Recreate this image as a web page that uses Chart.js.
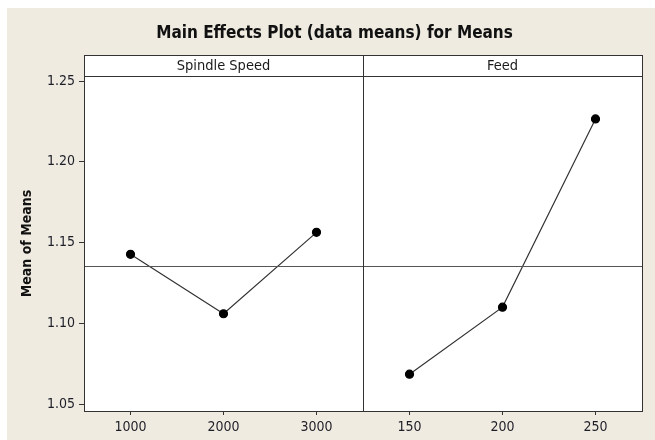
<!DOCTYPE html>
<html>
<head>
<meta charset="utf-8">
<script src="https://cdn.jsdelivr.net/npm/chart.js@4"></script>
<style>
  html, body { margin: 0; padding: 0; background: #ffffff; }
  #wrap { width: 655px; height: 440px; }
</style>
</head>
<body>
<div id="wrap"><canvas id="chart" width="655" height="440"></canvas></div>
<script>
const categories = ["1000", "2000", "3000", "150", "200", "250"];
const panels = ["Spindle Speed", "Feed"];
const spindleMeans = [1.1427, 1.1059, 1.1563, null, null, null];
const feedMeans = [null, null, null, 1.0685, 1.1100, 1.2265];
const grandMean = 1.1353;
const yTicks = [1.05, 1.10, 1.15, 1.20, 1.25];

const FONT = "'DejaVu Sans Condensed', 'DejaVu Sans', sans-serif";
const BEIGE = "#efebe1";
const LINE = "#333333";

// background, strip headers, panel divider and reference line
const panelPlugin = {
  id: "panels",
  beforeDraw(chart) {
    const c = chart.ctx;
    const a = chart.chartArea;
    const stripTop = a.top - 21;
    c.save();
    c.fillStyle = "#ffffff";
    c.fillRect(0, 0, chart.width, chart.height);
    c.fillStyle = BEIGE;
    c.fillRect(7, 8, chart.width - 7, chart.height - 8);
    c.fillStyle = "#ffffff";
    c.fillRect(a.left, stripTop, a.right - a.left, a.bottom - stripTop);
    c.restore();
  },
  afterDatasetsDraw(chart) {
    const c = chart.ctx;
    const a = chart.chartArea;
    const x = chart.scales.x;
    const y = chart.scales.y;
    const stripTop = a.top - 21;
    const mid = (x.getPixelForValue(2) + x.getPixelForValue(3)) / 2;
    c.save();
    c.lineWidth = 1;
    // grand mean
    const ym = Math.round(y.getPixelForValue(grandMean)) + 0.5;
    c.strokeStyle = "#555555";
    c.beginPath();
    c.moveTo(a.left, ym);
    c.lineTo(a.right, ym);
    c.stroke();
    // frame + strip
    c.strokeStyle = LINE;
    c.strokeRect(Math.round(a.left) + 0.5, Math.round(stripTop) + 0.5,
      Math.round(a.right - a.left), Math.round(a.bottom - stripTop));
    c.beginPath();
    c.moveTo(a.left, Math.round(a.top) + 0.5);
    c.lineTo(a.right, Math.round(a.top) + 0.5);
    c.moveTo(Math.round(mid) + 0.5, stripTop);
    c.lineTo(Math.round(mid) + 0.5, a.bottom);
    c.stroke();
    // strip labels
    c.fillStyle = "#1a1a1a";
    c.font = "14.5px " + FONT;
    c.textAlign = "center";
    c.textBaseline = "middle";
    c.fillText(panels[0], (a.left + mid) / 2, stripTop + 11);
    c.fillText(panels[1], (mid + a.right) / 2, stripTop + 11);
    c.restore();
  }
};

const ctx = document.getElementById("chart");

new Chart(ctx, {
  type: "line",
  data: {
    labels: categories,
    datasets: [
      {
        label: panels[0],
        data: spindleMeans,
        borderColor: LINE,
        borderWidth: 1.2,
        pointBackgroundColor: "#000",
        pointBorderColor: "#000",
        pointRadius: 4,
        spanGaps: false,
      },
      {
        label: panels[1],
        data: feedMeans,
        borderColor: LINE,
        borderWidth: 1.2,
        pointBackgroundColor: "#000",
        pointBorderColor: "#000",
        pointRadius: 4,
        spanGaps: false,
      },
    ],
  },
  options: {
    responsive: false,
    animation: false,
    layout: { padding: { left: 27, right: 13, top: 0, bottom: 0 } },
    plugins: {
      legend: { display: false },
      tooltip: { enabled: false },
      title: {
        display: true,
        text: "Main Effects Plot (data means) for Means",
        color: "#111",
        font: { family: FONT, size: 17, weight: "bold", lineHeight: 1.2 },
        padding: { top: 23, bottom: 32.6 },
      },
    },
    scales: {
      x: {
        type: "category",
        offset: true,
        grid: {
          offset: false,
          drawOnChartArea: false,
          drawTicks: true,
          tickLength: 4,
          color: LINE,
        },
        border: { display: true, color: LINE },
        ticks: {
          color: "#1e1e28",
          padding: 4,
          maxRotation: 0,
          font: { family: FONT, size: 14 },
        },
        afterFit(scale) { scale.height = 29; },
      },
      y: {
        min: 1.0457,
        max: 1.2531,
        afterBuildTicks(scale) {
          scale.ticks = yTicks.map(v => ({ value: v }));
        },
        afterFit(scale) { scale.width = 57; },
        grid: {
          drawOnChartArea: false,
          drawTicks: true,
          tickLength: 5,
          color: LINE,
        },
        border: { display: true, color: LINE },
        ticks: {
          color: "#1e1e28",
          padding: 4,
          font: { family: FONT, size: 14 },
          callback: v => v.toFixed(2),
        },
        title: {
          display: true,
          text: "Mean of Means",
          color: "#111",
          font: { family: FONT, size: 14, weight: "bold" },
          padding: { top: -8, bottom: 0 },
        },
      },
    },
  },
  plugins: [panelPlugin],
});
</script>
</body>
</html>
